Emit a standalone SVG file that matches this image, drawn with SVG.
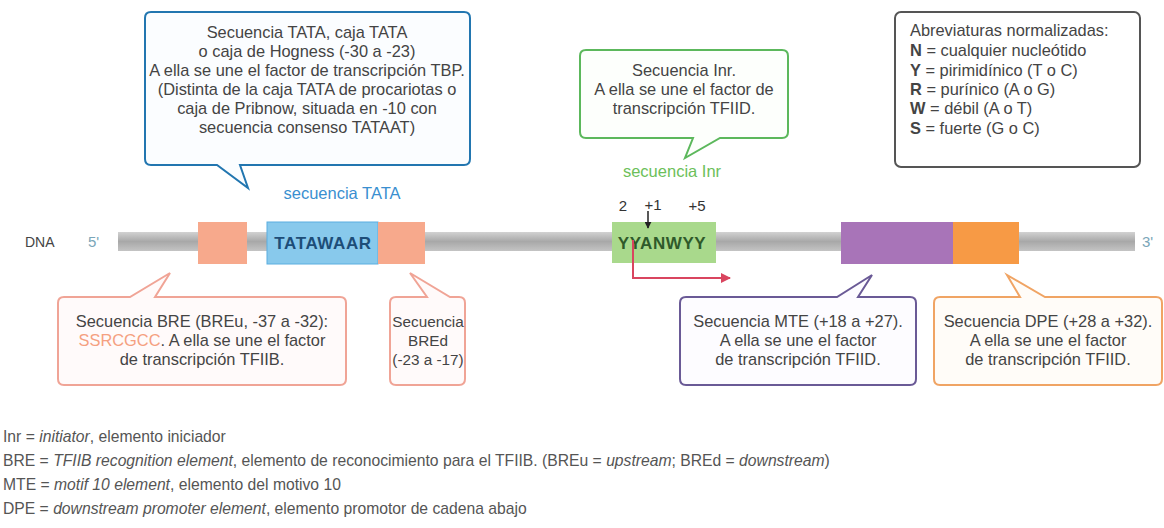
<svg xmlns="http://www.w3.org/2000/svg" width="1164" height="528" viewBox="0 0 1164 528">
<defs>
<style>
text{font-family:"Liberation Sans",Arial,sans-serif;fill:#444}
.c{font-size:16.4px;text-anchor:middle}
.cs{font-size:15.3px;text-anchor:middle}
.l{font-size:16.4px}
.lg{font-size:15.7px;fill:#555}
.i{font-style:italic}
.seq{font-size:17px;font-weight:bold;text-anchor:middle;letter-spacing:0.6px}
.call{stroke-width:2;stroke-linejoin:miter}
.num{font-size:15px;text-anchor:middle;fill:#333}
</style>
<linearGradient id="bar" x1="0" y1="0" x2="0" y2="1">
<stop offset="0" stop-color="#d2d2d2"/>
<stop offset="0.5" stop-color="#a8a8a8"/>
<stop offset="1" stop-color="#c4c4c4"/>
</linearGradient>
<marker id="ahR" viewBox="0 0 10 10" refX="9" refY="5" markerWidth="10" markerHeight="10" markerUnits="userSpaceOnUse" orient="auto">
<path d="M0,0 L10,5 L0,10 Z" fill="#d9455f"/>
</marker>
<marker id="ahK" viewBox="0 0 10 10" refX="9" refY="5" markerWidth="7" markerHeight="7" markerUnits="userSpaceOnUse" orient="auto">
<path d="M0,0 L10,5 L0,10 Z" fill="#222"/>
</marker>
</defs>
<rect width="1164" height="528" fill="#ffffff"/>

<g id="dna">
<text x="25" y="247" style="font-size:14px">DNA</text>
<text x="88" y="247" style="font-size:15px;fill:#7aa6b8">5'</text>
<rect x="118" y="232" width="1017" height="19" fill="url(#bar)"/>
<text x="1142" y="247" style="font-size:15px;fill:#7aa6b8">3'</text>
</g>

<g id="bre-box"><rect x="198" y="222" width="49" height="42" fill="#f7a98c"/></g>
<g id="tata-box"><rect x="267" y="222" width="111" height="42" fill="#88c9ec" stroke="#5aaee0" stroke-width="1"/>
<text class="seq" x="323" y="249" style="fill:#1d4d78">TATAWAAR</text></g>
<g id="bred-box"><rect x="378" y="222" width="47" height="42" fill="#f7a98c"/></g>
<g id="inr-box"><rect x="612" y="222" width="104" height="41" fill="#a9d98c"/>
<text class="seq" x="662" y="249" style="fill:#2f5a2a">YYANWYY</text>
<text class="num" x="623" y="211">2</text>
<text class="num" x="653" y="210">+1</text>
<text class="num" x="697" y="211">+5</text>
</g>
<g id="mte-box"><rect x="841" y="222" width="112" height="42" fill="#a874b8"/></g>
<g id="dpe-box"><rect x="953" y="222" width="66" height="42" fill="#f79a45"/></g>

<g id="connectors">
<line x1="648" y1="211" x2="648" y2="228" stroke="#222" stroke-width="1.5" marker-end="url(#ahK)"/>
<path d="M633,240 V278 H730" fill="none" stroke="#d9455f" stroke-width="2" marker-end="url(#ahR)"/>
</g>

<g id="tata-callout">
<path class="call" d="M151,12 H464 Q470,12 470,18 V159 Q470,165 464,165 H240 L248,188 L217,165 H151 Q145,165 145,159 V18 Q145,12 151,12 Z" fill="#fbfdff" stroke="#2276b0" stroke-width="2.5"/>
<text class="c" x="307" y="38">Secuencia TATA, caja TATA</text>
<text class="c" x="307" y="57">o caja de Hogness (-30 a -23)</text>
<text class="c" x="307" y="76">A ella se une el factor de transcripción TBP.</text>
<text class="c" x="307" y="95">(Distinta de la caja TATA de procariotas o</text>
<text class="c" x="307" y="114">caja de Pribnow, situada en -10 con</text>
<text class="c" x="307" y="133">secuencia consenso TATAAT)</text>
<text x="342" y="199" style="font-size:16.5px;text-anchor:middle;fill:#3a8fd0">secuencia TATA</text>
</g>

<g id="inr-callout">
<path class="call" d="M586,50 H782 Q788,50 788,56 V132 Q788,138 782,138 H720 L685,158 L693,138 H586 Q580,138 580,132 V56 Q580,50 586,50 Z" fill="#fdfffc" stroke="#5cb85c"/>
<text class="c" x="684" y="76">Secuencia Inr.</text>
<text class="c" x="684" y="95">A ella se une el factor de</text>
<text class="c" x="684" y="114">transcripción TFIID.</text>
<text x="672" y="177" style="font-size:16.5px;text-anchor:middle;fill:#6cbf5a">secuencia Inr</text>
</g>

<g id="abbrev">
<rect x="895" y="12" width="245" height="155" rx="6" fill="#ffffff" stroke="#555" stroke-width="2"/>
<text class="l" x="910" y="36">Abreviaturas normalizadas:</text>
<text class="l" x="910" y="56"><tspan font-weight="bold">N</tspan> = cualquier nucleótido</text>
<text class="l" x="910" y="76"><tspan font-weight="bold">Y</tspan> = pirimidínico (T o C)</text>
<text class="l" x="910" y="95"><tspan font-weight="bold">R</tspan> = purínico (A o G)</text>
<text class="l" x="910" y="114"><tspan font-weight="bold">W</tspan> = débil (A o T)</text>
<text class="l" x="910" y="134"><tspan font-weight="bold">S</tspan> = fuerte (G o C)</text>
</g>

<g id="bre-callout">
<path class="call" d="M64,297 H130 L170,273 L155,297 H340 Q346,297 346,303 V379 Q346,385 340,385 H64 Q58,385 58,379 V303 Q58,297 64,297 Z" fill="#fffafa" stroke="#f0a496"/>
<text class="c" x="202" y="327">Secuencia BRE (BREu, -37 a -32):</text>
<text class="c" x="202" y="346"><tspan style="fill:#f5a080">SSRCGCC</tspan>. A ella se une el factor</text>
<text class="c" x="202" y="365">de transcripción TFIIB.</text>
</g>

<g id="bred-callout">
<path class="call" d="M396,297 H427 L410,273 L450,297 H459 Q465,297 465,303 V379 Q465,385 459,385 H396 Q390,385 390,379 V303 Q390,297 396,297 Z" fill="#fffafa" stroke="#f0a496"/>
<text class="cs" x="428" y="327">Secuencia</text>
<text class="cs" x="428" y="346">BREd</text>
<text class="cs" x="428" y="365">(-23 a -17)</text>
</g>

<g id="mte-callout">
<path class="call" d="M686,297 H837 L872,275 L858,297 H910 Q916,297 916,303 V379 Q916,385 910,385 H686 Q680,385 680,379 V303 Q680,297 686,297 Z" fill="#fdfcff" stroke="#6a5a96"/>
<text class="c" x="798" y="327">Secuencia MTE (+18 a +27).</text>
<text class="c" x="798" y="346">A ella se une el factor</text>
<text class="c" x="798" y="365">de transcripción TFIID.</text>
</g>

<g id="dpe-callout">
<path class="call" d="M940,297 H1020 L1007,275 L1045,297 H1156 Q1162,297 1162,303 V379 Q1162,385 1156,385 H940 Q934,385 934,379 V303 Q934,297 940,297 Z" fill="#fffcf8" stroke="#f0a464"/>
<text class="c" x="1048" y="327">Secuencia DPE (+28 a +32).</text>
<text class="c" x="1048" y="346">A ella se une el factor</text>
<text class="c" x="1048" y="365">de transcripción TFIID.</text>
</g>

<g id="legend">
<text class="lg" x="3" y="442">Inr = <tspan class="i">initiator</tspan>, elemento iniciador</text>
<text class="lg" x="3" y="466">BRE = <tspan class="i">TFIIB recognition element</tspan>, elemento de reconocimiento para el TFIIB. (BREu = <tspan class="i">upstream</tspan>; BREd = <tspan class="i">downstream</tspan>)</text>
<text class="lg" x="3" y="490">MTE = <tspan class="i">motif 10 element</tspan>, elemento del motivo 10</text>
<text class="lg" x="3" y="514">DPE = <tspan class="i">downstream promoter element</tspan>, elemento promotor de cadena abajo</text>
</g>
</svg>
